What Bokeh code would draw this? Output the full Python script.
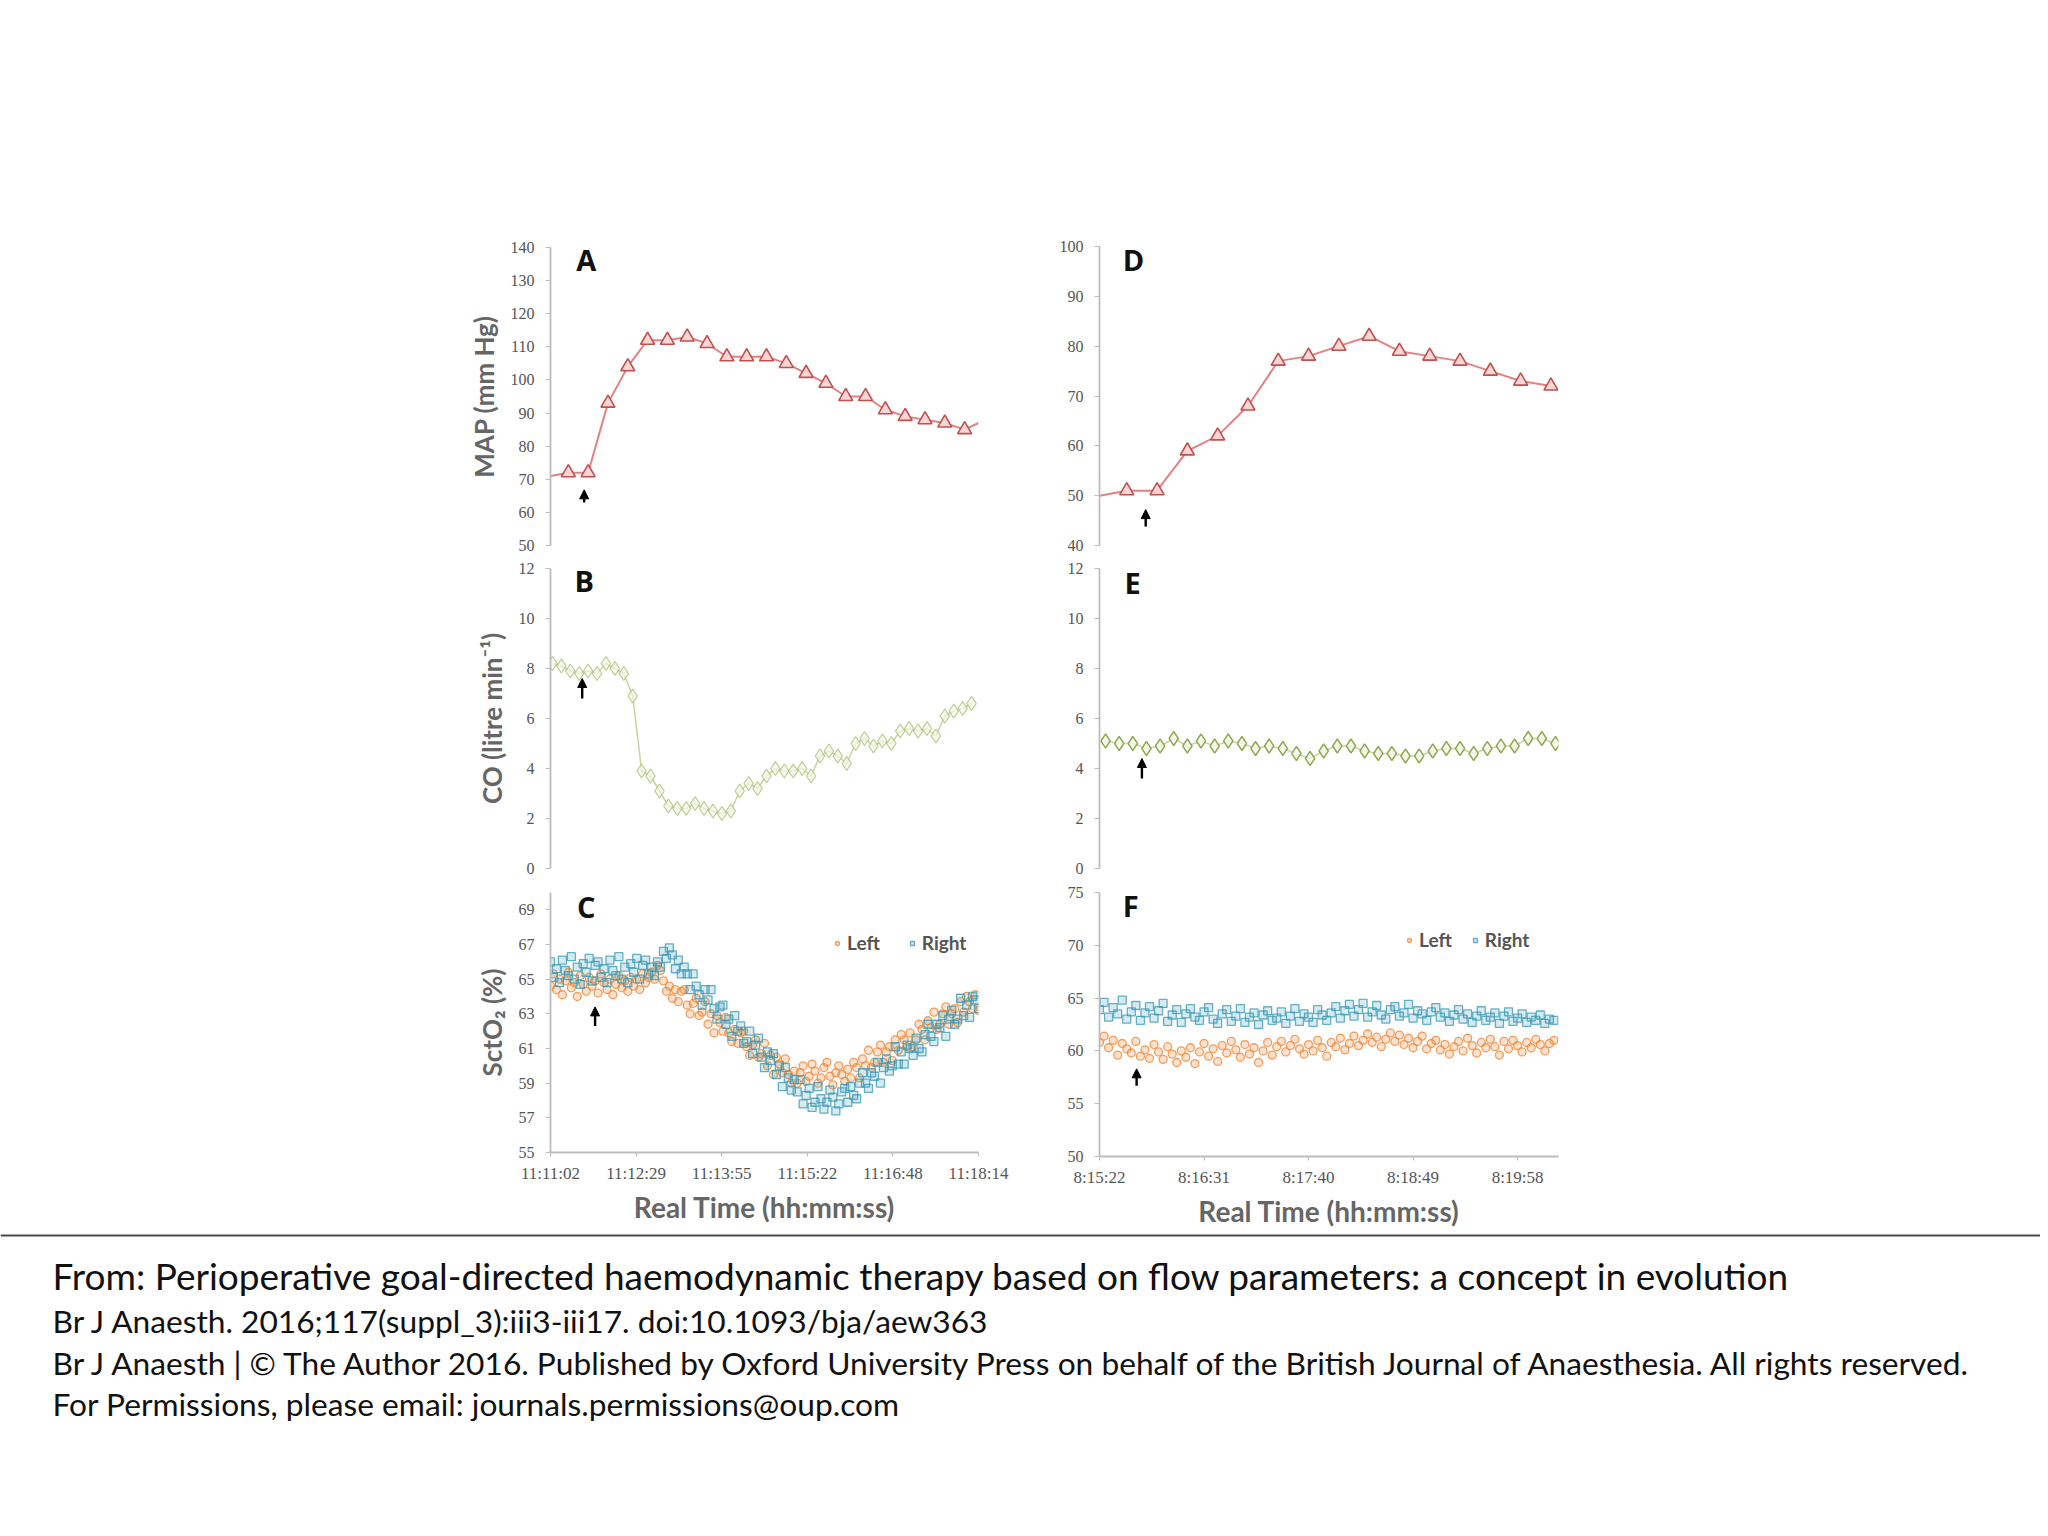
import numpy as np
from bokeh.plotting import figure
from bokeh.layouts import column, row
from bokeh.models import (Spacer, FixedTicker, Range1d, Arrow, NormalHead, Legend,
                          LegendItem, Label, Span)
from bokeh.core.properties import value
from bokeh.embed import file_html
from bokeh.resources import INLINE

# ---------------- DATA ----------------
# Case 1 (panels A-C): seconds after 11:11:02
left_tick_pos = [0, 86.4, 172.8, 259.2, 345.6, 432]
left_tick_labels = ["11:11:02", "11:12:29", "11:13:55", "11:15:22", "11:16:48", "11:18:14"]

map1_t = [18, 38, 58, 78, 98, 118, 138, 158, 178, 198, 218, 238, 258, 278, 298,
          318, 338, 358, 378, 398, 418]
map1_v = [72, 72, 93, 104, 112, 112, 113, 111, 107, 107, 107, 105, 102, 99, 95,
          95, 91, 89, 88, 87, 85]
map1_edge_t = [0, 432]
map1_edge_v = [71, 87]

co1_t = np.arange(2, 430, 9)
co1_v = [8.2, 8.1, 7.9, 7.8, 7.9, 7.8, 8.2, 8.0, 7.8, 6.9,
         3.9, 3.7, 3.1, 2.5, 2.4, 2.4, 2.6, 2.4, 2.3, 2.2,
         2.3, 3.1, 3.4, 3.2, 3.7, 4.0, 3.9, 3.9, 4.0, 3.7,
         4.5, 4.7, 4.5, 4.2, 5.0, 5.2, 4.9, 5.1, 5.0, 5.5,
         5.6, 5.5, 5.6, 5.3, 6.1, 6.3, 6.4, 6.6]

sct1_t = np.arange(0, 433, 3)
sct1_right = [66.0, 65.1, 65.6, 64.8, 66.1, 65.5, 65.2, 66.3, 65.0, 65.7,
              64.7, 65.9, 65.4, 66.2, 64.9, 65.8, 66.0, 65.1, 65.6, 64.8,
              66.1, 65.5, 65.2, 66.3, 65.0, 65.7, 64.8, 65.9, 65.4, 66.2,
              65.0, 65.8, 66.1, 65.3, 65.7, 65.2, 66.0, 65.7, 66.6, 66.2,
              66.8, 66.4, 65.6, 66.1, 65.3, 65.7, 65.3, 64.4, 65.3, 64.6,
              64.1, 63.5, 64.4, 63.8, 64.4, 63.3, 62.7, 63.4, 63.5, 62.4,
              62.7, 61.7, 62.9, 62.0, 62.3, 61.3, 61.4, 62.0, 60.7, 61.2,
              61.6, 60.5, 59.9, 60.8, 60.3, 60.7, 59.5, 60.0, 58.8, 59.9,
              59.3, 58.6, 59.2, 58.5, 59.2, 57.8, 58.3, 58.7, 57.6, 57.9,
              58.8, 58.1, 57.5, 57.9, 58.6, 58.2, 57.4, 57.8, 58.5, 58.7,
              57.9, 58.8, 58.3, 58.1, 59.0, 59.6, 59.0, 58.7, 59.6, 59.4,
              60.2, 59.0, 59.9, 60.4, 59.7, 60.0, 61.1, 60.1, 60.8, 60.1,
              61.2, 61.0, 60.6, 61.6, 61.0, 60.8, 61.8, 62.4, 61.7, 61.4,
              62.4, 62.2, 62.9, 61.7, 62.7, 63.2, 62.4, 62.7, 63.9, 62.9,
              63.5, 62.8, 64.0, 63.8, 63.3]
sct1_left = [64.6, 65.3, 64.4, 65.0, 64.1, 64.9, 65.4, 64.5, 64.8, 64.0,
             65.2, 64.7, 64.3, 65.1, 64.6, 64.9, 64.2, 65.3, 64.8, 64.4,
             65.0, 64.1, 64.7, 65.2, 64.5, 64.9, 64.3, 65.1, 64.6, 65.0,
             64.4, 65.3, 64.8, 65.1, 65.4, 65.0, 65.8, 65.5, 64.9, 64.3,
             64.6, 63.9, 64.4, 63.7, 64.3, 64.4, 63.5, 63.0, 63.6, 63.9,
             62.9, 63.1, 63.7, 62.4, 63.0, 61.9, 62.9, 62.5, 62.0, 62.8,
             61.9, 61.4, 62.1, 61.3, 61.9, 62.0, 61.1, 60.6, 61.2, 61.5,
             60.5, 60.7, 61.3, 60.0, 60.6, 59.5, 60.5, 60.1, 59.6, 60.4,
             59.5, 59.0, 59.7, 59.0, 59.6, 60.0, 59.1, 59.4, 60.1, 59.7,
             59.0, 59.3, 59.9, 60.2, 59.4, 58.9, 59.6, 60.0, 59.5, 59.1,
             59.8, 59.3, 60.2, 59.9, 59.3, 60.4, 60.0, 60.9, 59.9, 60.2,
             60.8, 61.2, 60.2, 60.8, 61.1, 60.3, 61.5, 60.9, 61.8, 61.5,
             61.1, 61.9, 61.1, 61.5, 62.4, 62.1, 61.5, 62.6, 62.2, 63.1,
             62.1, 62.4, 63.0, 63.4, 62.4, 63.0, 63.3, 62.5, 63.7, 63.1,
             64.0, 63.7, 63.3, 64.1, 63.2]

# Case 2 (panels D-F): seconds after 8:15:22
right_tick_pos = [0, 69, 138, 207, 276]
right_tick_labels = ["8:15:22", "8:16:31", "8:17:40", "8:18:49", "8:19:58"]

map2_t = [18, 38, 58, 78, 98, 118, 138, 158, 178, 198, 218, 238, 258, 278, 298]
map2_v = [51, 51, 59, 62, 68, 77, 78, 80, 82, 79, 78, 77, 75, 73, 72]
map2_edge_t = [0]
map2_edge_v = [50]

co2_t = np.arange(4, 302, 9)
co2_v = [5.1, 5.0, 5.0, 4.8, 4.9, 5.2, 4.9, 5.1, 4.9, 5.1,
         5.0, 4.8, 4.9, 4.8, 4.6, 4.4, 4.7, 4.9, 4.9, 4.7,
         4.6, 4.6, 4.5, 4.5, 4.7, 4.8, 4.8, 4.6, 4.8, 4.9,
         4.9, 5.2, 5.2, 5.0]

sct2_t = np.arange(0, 301, 3)
sct2_right = [63.9, 64.6, 63.2, 64.1, 63.5, 64.8, 63.0, 63.7, 64.3, 62.9,
              63.6, 64.2, 63.1, 63.8, 64.5, 62.8, 63.4, 63.9, 62.7, 63.5,
              64.0, 63.2, 62.9, 63.7, 64.1, 63.0, 62.6, 63.5, 63.9, 62.8,
              63.3, 64.0, 62.7, 63.2, 63.6, 62.5, 63.4, 63.8, 62.9, 63.1,
              63.7, 62.6, 63.3, 64.0, 62.8, 63.5, 63.2, 62.7, 63.9, 63.4,
              62.9, 63.6, 64.2, 63.1, 63.8, 64.4, 63.3, 63.9, 64.5, 63.2,
              63.7, 64.3, 63.4, 63.0, 63.9, 64.2, 63.3, 63.6, 64.4, 63.1,
              63.8, 63.5, 62.9, 63.7, 64.1, 63.2, 63.6, 62.8, 63.4, 63.9,
              63.0, 63.5, 62.7, 63.3, 63.8, 62.9, 63.2, 63.6, 62.6, 63.3,
              63.7, 62.8, 63.1, 63.5, 62.7, 63.2, 62.9, 63.4, 62.6, 63.0,
              62.9]
sct2_left = [60.8, 61.4, 60.3, 61.0, 59.6, 60.7, 60.2, 59.8, 60.9, 59.5,
             60.1, 59.3, 60.6, 59.9, 59.2, 60.4, 59.7, 58.9, 60.0, 59.4,
             60.3, 58.8, 59.9, 60.7, 59.5, 60.2, 59.0, 60.5, 59.8, 60.9,
             60.1, 59.4, 60.6, 59.7, 60.3, 58.9, 60.0, 60.8, 59.6, 60.4,
             60.9, 59.9, 60.5, 61.1, 60.2, 59.7, 60.6, 60.0, 61.0, 60.3,
             59.5, 60.8, 60.4, 61.2, 60.1, 60.7, 61.4, 60.5, 61.0, 61.6,
             60.8, 61.3, 60.4, 61.1, 61.7, 60.9, 61.5, 60.6, 61.2, 60.3,
             60.9, 61.4, 60.2, 60.7, 61.0, 60.1, 60.6, 59.7, 60.4, 60.9,
             60.0, 61.2, 60.5, 59.8, 60.8, 60.3, 61.1, 60.4, 59.6, 60.9,
             60.2, 61.0, 60.5, 59.9, 60.8, 60.3, 61.1, 60.6, 60.0, 60.7,
             61.0]

map1_ticks = [50, 60, 70, 80, 90, 100, 110, 120, 130, 140]
co_ticks = [0, 2, 4, 6, 8, 10, 12]
sct1_ticks = [55, 57, 59, 61, 63, 65, 67, 69]
map2_ticks = [40, 50, 60, 70, 80, 90, 100]
sct2_ticks = [50, 55, 60, 65, 70, 75]

# infusion-start arrows: (x, y_tail, y_tip)
arrow_A = (34, 63.0, 66.8)
arrow_B = (32, 6.8, 7.6)
arrow_C = (45, 62.3, 63.4)
arrow_D = (30.5, 43.8, 47.2)
arrow_E = (28, 3.6, 4.4)
arrow_F = (24.5, 56.7, 58.3)

footer_title = "From: Perioperative goal-directed haemodynamic therapy based on flow parameters: a concept in evolution"
footer_lines = ["Br J Anaesth. 2016;117(suppl_3):iii3-iii17. doi:10.1093/bja/aew363",
                "Br J Anaesth | \u00a9 The Author 2016. Published by Oxford University Press on behalf of the British Journal of Anaesthesia. All rights reserved.",
                "For Permissions, please email: journals.permissions@oup.com"]

# ---------------- STYLE ----------------
RED_LINE = "#e48283"
RED = "#c0504d"
GREEN = "#a9bf70"
GREEN_LINE = "#c9d5a5"
ORANGE = "#f0883a"
TEAL = "#3598b5"
AX = "#bdbdbd"
TXT = "#555555"
TICK_FONT = "Liberation Serif"
TITLE_FONT = "Lato"


def panel(xr, yr, yticks, fw, fh, bl, br, bt, bb, ylabel=None):
    p = figure(frame_width=fw, frame_height=fh, x_range=Range1d(*xr), y_range=Range1d(*yr),
               output_backend="svg", toolbar_location=None,
               min_border_left=bl, min_border_right=br, min_border_top=bt, min_border_bottom=bb)
    p.outline_line_color = None
    p.grid.visible = False
    p.background_fill_color = "white"
    p.border_fill_color = "white"
    ya = p.yaxis[0]
    ya.ticker = FixedTicker(ticks=yticks)
    ya.axis_line_color = AX
    ya.axis_line_width = 1.8
    ya.major_tick_line_color = AX
    ya.major_tick_out = 5
    ya.major_tick_in = 0
    ya.minor_tick_line_color = None
    ya.major_label_text_font = TICK_FONT
    ya.major_label_text_font_size = "16px"
    ya.major_label_text_color = TXT
    ya.major_label_standoff = 11
    if ylabel:
        ya.axis_label = ylabel
        ya.axis_label_text_font = TITLE_FONT
        ya.axis_label_text_font_style = "bold"
        ya.axis_label_text_font_size = "26px"
        ya.axis_label_text_color = "#666666"
        ya.axis_label_standoff = 8
    return p


def bottom_axis(p, ticks, labels):
    xa = p.xaxis[0]
    xa.ticker = FixedTicker(ticks=ticks)
    xa.major_label_overrides = {t: l for t, l in zip(ticks, labels)}
    xa.axis_line_color = AX
    xa.axis_line_width = 1.8
    xa.major_tick_line_color = AX
    xa.major_tick_out = 4
    xa.major_tick_in = 0
    xa.minor_tick_line_color = None
    xa.major_label_text_font = TICK_FONT
    xa.major_label_text_font_size = "17px"
    xa.major_label_text_color = TXT
    xa.major_label_standoff = 7
    xa.axis_label = "Real Time (hh:mm:ss)"
    xa.axis_label_text_font = TITLE_FONT
    xa.axis_label_text_font_style = "bold"
    xa.axis_label_text_font_size = "28px"
    xa.axis_label_text_color = "#666666"
    xa.axis_label_standoff = 4


def letter(p, x, y, t):
    p.add_layout(Label(x=x, y=y, text=t, text_align="center", text_baseline="middle",
                       text_font="Open Sans", text_font_style="bold", text_font_size="29px",
                       text_color="#111111"))


def arrow(p, a):
    x, y0, y1 = a
    p.add_layout(Arrow(end=NormalHead(size=9, fill_color="black", line_color="black"),
                       x_start=x, y_start=y0, x_end=x, y_end=y1,
                       line_color="black", line_width=2.4))


def sct_scatter(p, t, left, right, loc, spacing, size):
    rl = p.scatter(t, left, marker="circle", size=size, line_color=ORANGE, line_alpha=0.8,
                   fill_color=ORANGE, fill_alpha=0.25, line_width=1.3)
    rr = p.scatter(t, right, marker="square", size=size, line_color=TEAL, line_alpha=0.75,
                   fill_color=TEAL, fill_alpha=0.2, line_width=1.3)
    lg = Legend(items=[LegendItem(label="Left", renderers=[rl]),
                       LegendItem(label="Right", renderers=[rr])],
                location=loc, orientation="horizontal", border_line_alpha=0,
                background_fill_alpha=0, padding=0, margin=0, spacing=spacing,
                glyph_width=10, glyph_height=10, label_standoff=5,
                label_text_font=TITLE_FONT, label_text_font_size="19px",
                label_text_color=TXT, label_text_font_style="bold")
    p.add_layout(lg, "center")


LX = (0, 432)
RX = (0, 303)
LW, RW = 428, 459

# ---- Left column ----
pA = panel(LX, (50, 140), map1_ticks, LW, 298, 110, 40, 20, 12, "MAP (mm Hg)")
pA.xaxis.visible = False
pA.line(map1_edge_t[:1] + map1_t + map1_edge_t[1:], map1_edge_v[:1] + map1_v + map1_edge_v[1:],
        line_color=RED_LINE, line_width=2)
pA.scatter(map1_t, map1_v, marker="triangle", size=14, line_color=RED, line_width=1.6,
           fill_color="#f9d6d6")
letter(pA, 36, 136.5, "A")
arrow(pA, arrow_A)

pB = panel(LX, (0, 12), co_ticks, LW, 300, 110, 40, 11, 12, "CO (litre min\u207b\u00b9)")
pB.xaxis.visible = False
pB.line(co1_t, co1_v, line_color=GREEN_LINE, line_width=1.6)
pB.scatter(co1_t, co1_v, marker="diamond", size=14, line_color=GREEN, line_alpha=0.75,
           line_width=1.3, fill_color="#f4f7ea", fill_alpha=0.7)
letter(pB, 34, 11.52, "B")
arrow(pB, arrow_B)

pC = panel(LX, (55, 70), sct1_ticks, LW, 260, 110, 40, 12, 76, "SctO\u2082 (%)")
bottom_axis(pC, left_tick_pos, left_tick_labels)
sct_scatter(pC, sct1_t, sct1_left, sct1_right, (282, 198), 27, 8)
letter(pC, 36, 69.2, "C")
arrow(pC, arrow_C)

# ---- Right column ----
pD = panel(RX, (40, 100), map2_ticks, RW, 299, 81, 40, 19, 12)
pD.xaxis.visible = False
pD.line(map2_edge_t + map2_t, map2_edge_v + map2_v, line_color=RED_LINE, line_width=2)
pD.scatter(map2_t, map2_v, marker="triangle", size=14, line_color=RED, line_width=1.6,
           fill_color="#f9d6d6")
letter(pD, 22.5, 97.3, "D")
arrow(pD, arrow_D)

pE = panel(RX, (0, 12), co_ticks, RW, 300, 81, 40, 11, 12)
pE.xaxis.visible = False
pE.line(co2_t, co2_v, line_color=GREEN_LINE, line_width=1.6)
pE.scatter(co2_t, co2_v, marker="diamond", size=14, line_color="#8fa852", line_width=1.4,
           fill_color="#f4f7ea", fill_alpha=0.8)
letter(pE, 21.8, 11.46, "E")
arrow(pE, arrow_E)

pF = panel(RX, (50, 75), sct2_ticks, RW, 264, 81, 40, 12, 72)
bottom_axis(pF, right_tick_pos, right_tick_labels)
sct_scatter(pF, sct2_t, sct2_left, sct2_right, (305, 205), 18, 8)
letter(pF, 20.6, 73.75, "F")
arrow(pF, arrow_F)

# ---- Footer ----
FW, FH = 2040, 290
pf = figure(frame_width=FW, frame_height=FH, x_range=Range1d(0, FW), y_range=Range1d(FH, 0),
            min_border=0, output_backend="svg", toolbar_location=None,
            x_axis_location=None, y_axis_location=None)
pf.outline_line_color = None
pf.grid.visible = False
pf.add_layout(Span(location=5, dimension="width", line_color="#4a4a4a", line_width=2))
pf.text(x=[52], y=[45], text=[footer_title], text_font=value(TITLE_FONT),
        text_font_size="37px", text_color="#111111", text_baseline="middle")
pf.text(x=[52, 52, 52], y=[90, 132, 173], text=footer_lines, text_font=value(TITLE_FONT),
        text_font_size="31.7px", text_color="#111111", text_baseline="middle")

left_col = column(pA, pB, pC, spacing=0)
right_col = column(pD, pE, pF, spacing=0)
top = row(Spacer(width=440, height=10), left_col, right_col, spacing=0)
page = column(Spacer(width=10, height=227), top, pf, spacing=0)

open("out.html", "w").write(file_html(page, INLINE))
